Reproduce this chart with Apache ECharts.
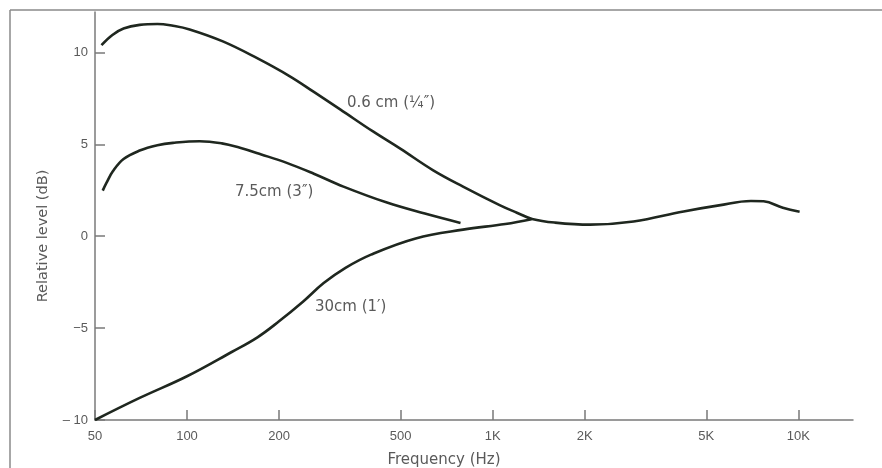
<!DOCTYPE html>
<html>
<head>
<meta charset="utf-8">
<script src="https://cdn.jsdelivr.net/npm/echarts@6/dist/echarts.min.js"></script>
<style>html,body{margin:0;padding:0;background:#fff}#c{width:882px;height:468px}</style>
</head>
<body>
<div id="c"></div>
<script>
// Frequencies (Hz) and relative levels (dB)
const freq06 = [52.5, 57, 62, 70, 80, 90, 102, 131, 169, 217, 260, 317, 406, 500, 637, 800, 1058, 1200, 1346, 1600, 2086, 2890, 4215, 5500, 7000, 7700, 8900, 10100];
const level06 = [10.4, 10.95, 11.3, 11.5, 11.55, 11.45, 11.25, 10.6, 9.7, 8.7, 7.85, 6.9, 5.7, 4.75, 3.6, 2.7, 1.68, 1.28, 0.94, 0.74, 0.63, 0.8, 1.35, 1.68, 1.92, 1.9, 1.55, 1.33];
const freq75 = [53, 54.5, 57.2, 62, 70, 80, 90, 110, 130, 149, 175, 212, 260, 325, 451, 600, 785];
const level75 = [2.48, 2.9, 3.53, 4.2, 4.66, 4.95, 5.08, 5.17, 5.05, 4.81, 4.45, 3.99, 3.4, 2.7, 1.83, 1.23, 0.72];
const freq30 = [50, 70, 100, 140, 170, 200, 240, 280, 330, 400, 560, 800, 1100, 1340];
const level30 = [-10, -8.8, -7.62, -6.3, -5.5, -4.63, -3.55, -2.55, -1.72, -1.0, -0.12, 0.36, 0.66, 0.92];
const seriesNames = ['0.6 cm (¼\u2033)', '7.5cm (3\u2033)', '30cm (1\u2032)'];
const xTickFreqs = [50, 100, 200, 500, 1000, 2000, 5000, 10000];
const xTickLabels = ['50', '100', '200', '500', '1K', '2K', '5K', '10K'];
const yTickValues = [-10, -5, 0, 5, 10];
const yTickLabels = ['\u2013 10', '\u22125', '0', '5', '10'];
const xAxisTitle = 'Frequency (Hz)';
const yAxisTitle = 'Relative level (dB)';
const xMinHz = 50, xMaxHz = 15100;
const yMin = -10, yMax = 12.2;

const lg = v => Math.log10(v);
const pair = (fs, vs) => fs.map((f, i) => [lg(f), vs[i]]);
const xTickPos = xTickFreqs.map(lg);

const axisColor = '#7a7a7a';
const textColor = '#5a5a5a';
const lineColor = '#1f271f';
const font = 'Liberation Sans, Arial, sans-serif';
const font2 = '"DejaVu Sans", sans-serif';

const chart = echarts.init(document.getElementById('c'), null, {renderer: 'canvas'});
chart.setOption({
  animation: false,
  backgroundColor: '#ffffff',
  grid: {left: 95, right: 29, top: 12, bottom: 48, containLabel: false},
  xAxis: {
    type: 'value', min: lg(xMinHz), max: lg(xMaxHz),
    splitLine: {show: false},
    axisLine: {show: true, onZero: false, lineStyle: {color: axisColor, width: 1.5}},
    axisTick: {show: true, inside: true, length: 10, customValues: xTickPos, lineStyle: {color: axisColor, width: 1.5}},
    axisLabel: {
      customValues: xTickPos, color: textColor, fontSize: 13, fontFamily: font, margin: 10,
      formatter: v => {
        let best = 0;
        xTickPos.forEach((p, i) => { if (Math.abs(p - v) < Math.abs(xTickPos[best] - v)) best = i; });
        return xTickLabels[best];
      }
    }
  },
  yAxis: {
    type: 'value', min: yMin, max: yMax,
    splitLine: {show: false},
    axisLine: {show: true, onZero: false, lineStyle: {color: axisColor, width: 1.5}},
    axisTick: {show: true, inside: true, length: 10, customValues: yTickValues, lineStyle: {color: axisColor, width: 1.5}},
    axisLabel: {
      customValues: yTickValues, color: textColor, fontSize: 13, fontFamily: font, margin: 7,
      formatter: v => {
        const i = yTickValues.findIndex(t => Math.abs(t - v) < 1e-6);
        return i >= 0 ? yTickLabels[i] : '';
      }
    }
  },
  series: [
    {name: seriesNames[0], type: 'line', smooth: 0.4, showSymbol: false, data: pair(freq06, level06),
     lineStyle: {color: lineColor, width: 2.6}},
    {name: seriesNames[1], type: 'line', smooth: 0.4, showSymbol: false, data: pair(freq75, level75),
     lineStyle: {color: lineColor, width: 2.6}},
    {name: seriesNames[2], type: 'line', smooth: 0.4, showSymbol: false, data: pair(freq30, level30),
     lineStyle: {color: lineColor, width: 2.6}}
  ],
  graphic: [
    {type: 'line', shape: {x1: 10, y1: 10, x2: 882, y2: 10}, style: {stroke: '#8a8a8a', lineWidth: 1.5}},
    {type: 'line', shape: {x1: 10, y1: 10, x2: 10, y2: 468}, style: {stroke: '#8a8a8a', lineWidth: 1.5}},
    {type: 'text', x: 444, y: 460, style: {text: xAxisTitle, fill: textColor, font: '15px ' + font2, textAlign: 'center', textVerticalAlign: 'middle'}},
    {type: 'text', x: 43, y: 236, rotation: Math.PI / 2, style: {text: yAxisTitle, fill: textColor, font: '14.5px ' + font2, textAlign: 'center', textVerticalAlign: 'middle'}},
    {type: 'text', x: 347, y: 103, style: {text: seriesNames[0], fill: textColor, font: '15px ' + font2, textVerticalAlign: 'middle'}},
    {type: 'text', x: 235, y: 192, style: {text: seriesNames[1], fill: textColor, font: '15px ' + font2, textVerticalAlign: 'middle'}},
    {type: 'text', x: 315, y: 307, style: {text: seriesNames[2], fill: textColor, font: '15px ' + font2, textVerticalAlign: 'middle'}}
  ]
});
</script>
</body>
</html>
